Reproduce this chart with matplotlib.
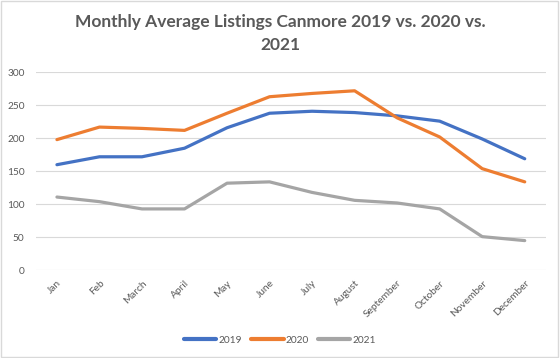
import matplotlib.pyplot as plt
import numpy as np

plt.rcParams['font.family'] = ['Lato', 'DejaVu Sans']

months = ['Jan', 'Feb', 'March', 'April', 'May', 'June', 'July', 'August',
          'September', 'October', 'November', 'December']
y2019 = [160, 172, 172, 185, 216, 238, 241, 239, 234, 226, 199, 169]
y2020 = [198, 217, 215, 212, 238, 263, 268, 272, 231, 202, 154, 134]
y2021 = [111, 104, 93, 93, 132, 134, 118, 106, 102, 93, 51, 45]

txt = '#595959'
fig = plt.figure(figsize=(5.6, 3.58), dpi=100)
ax = fig.add_axes([0.0637, 0.245, 0.9113, 0.553])

x = np.arange(len(months))
for vals, col, lab in [(y2019, '#4472C4', '2019'),
                       (y2020, '#ED7D31', '2020'),
                       (y2021, '#A5A5A5', '2021')]:
    ax.plot(x, vals, color=col, lw=2.3, label=lab, solid_capstyle='round')

ax.set_xlim(-0.5, len(months) - 0.5)
ax.set_ylim(0, 300)
ax.set_yticks(range(0, 301, 50))
ax.grid(axis='y', color='#D9D9D9', lw=0.8)
ax.set_axisbelow(True)
for s in ax.spines.values():
    s.set_visible(False)
ax.tick_params(length=0, colors=txt, labelsize=7.3)
ax.tick_params(axis='y', pad=8)
ax.tick_params(axis='x', pad=6)
ax.set_xticks(x)
ax.set_xticklabels(months, rotation=45, ha='right', rotation_mode='anchor')

fig.suptitle('Monthly Average Listings Canmore 2019 vs. 2020 vs.\n2021',
             x=0.5, y=0.962, fontsize=12.5, fontweight='bold', color=txt,
             linespacing=1.6)

leg = fig.legend(loc='center', bbox_to_anchor=(0.5, 0.05), ncol=3,
                 frameon=False, fontsize=7.3, handlelength=3.2,
                 columnspacing=0.9, handletextpad=0.2)
for t in leg.get_texts():
    t.set_color(txt)
for h in leg.get_lines():
    h.set_linewidth(3)

fig.patches.append(plt.Rectangle((0.002, 0.003), 0.995, 0.994,
                                 transform=fig.transFigure, fill=False,
                                 edgecolor='#D9D9D9', lw=1))

fig.savefig('out.png', dpi=100)
